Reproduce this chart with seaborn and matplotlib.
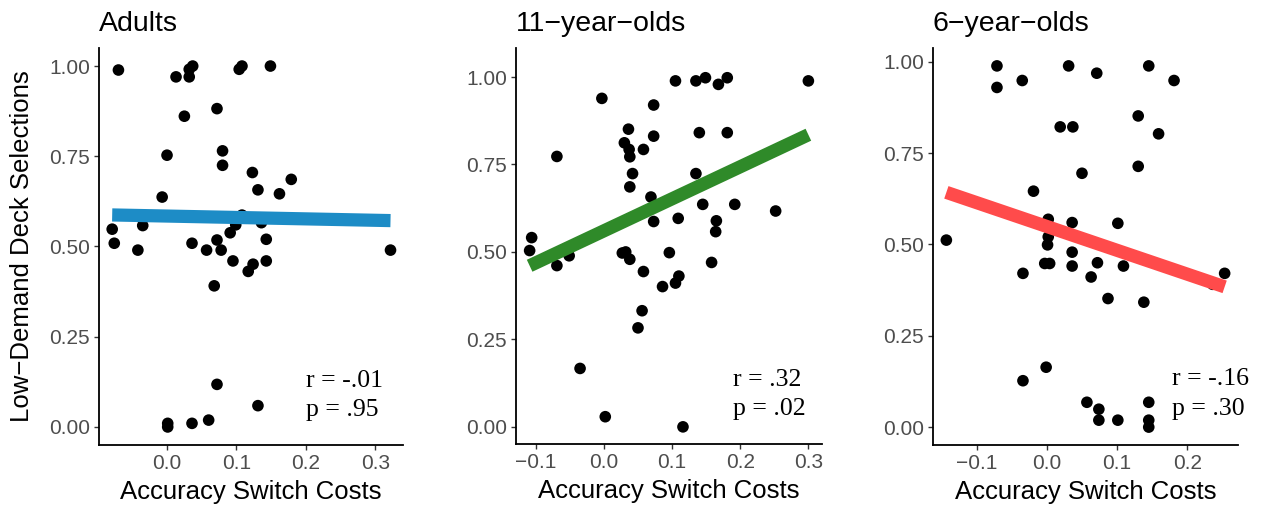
import numpy as np
import pandas as pd
import matplotlib
matplotlib.use("Agg")
import matplotlib.pyplot as plt
import seaborn as sns

# Accuracy switch costs (x) and proportion of low-demand deck selections (y)
adults_x = [-0.070, 0.013, 0.032, 0.037, 0.032, 0.104, 0.108, 0.149, 0.025, 0.072,
            0.000, 0.080, 0.080, 0.123, 0.179, 0.131, 0.162, -0.007, 0.108, -0.079,
            -0.035, 0.099, 0.091, 0.136, -0.076, -0.042, 0.036, 0.057, 0.072, 0.078,
            0.143, 0.095, 0.124, 0.117, 0.143, 0.068, 0.322, 0.072, 0.131, 0.001,
            0.001, 0.036, 0.060]
adults_y = [0.989, 0.970, 0.991, 1.000, 0.970, 0.991, 1.000, 1.000, 0.861, 0.882,
            0.753, 0.765, 0.725, 0.705, 0.686, 0.657, 0.646, 0.637, 0.587, 0.548,
            0.558, 0.560, 0.538, 0.566, 0.509, 0.490, 0.509, 0.490, 0.518, 0.490,
            0.520, 0.460, 0.451, 0.431, 0.460, 0.391, 0.490, 0.118, 0.059, 0.010,
            0.000, 0.010, 0.019]

age11_x = [-0.106, -0.109, -0.069, -0.069, -0.051, -0.035, -0.003, 0.002, 0.027, 0.032,
           0.038, 0.030, 0.037, 0.038, 0.036, 0.042, 0.038, 0.058, 0.073, 0.073,
           0.069, 0.073, 0.058, 0.056, 0.050, 0.096, 0.086, 0.105, 0.110, 0.109,
           0.105, 0.135, 0.149, 0.168, 0.181, 0.300, 0.140, 0.181, 0.135, 0.145,
           0.192, 0.252, 0.165, 0.164, 0.158, 0.116]
age11_y = [0.541, 0.504, 0.773, 0.461, 0.489, 0.167, 0.939, 0.029, 0.497, 0.500,
           0.479, 0.812, 0.793, 0.772, 0.851, 0.724, 0.686, 0.793, 0.920, 0.831,
           0.657, 0.587, 0.444, 0.332, 0.283, 0.498, 0.401, 0.411, 0.431, 0.596,
           0.989, 0.989, 0.998, 0.979, 0.998, 0.989, 0.841, 0.841, 0.724, 0.636,
           0.636, 0.617, 0.589, 0.558, 0.470, 0.000]

age6_x = [-0.143, -0.071, -0.071, -0.035, 0.031, 0.071, 0.145, 0.181, 0.019, 0.037,
          0.130, 0.159, 0.130, 0.050, -0.019, 0.002, 0.036, 0.101, 0.002, 0.001,
          -0.003, 0.004, 0.036, 0.036, 0.072, 0.063, 0.109, 0.087, 0.138, -0.034,
          0.253, 0.236, -0.034, -0.001, 0.057, 0.074, 0.074, 0.101, 0.145, 0.145,
          0.145]
age6_y = [0.512, 0.989, 0.930, 0.949, 0.989, 0.969, 0.989, 0.949, 0.822, 0.822,
          0.852, 0.803, 0.714, 0.695, 0.646, 0.569, 0.560, 0.558, 0.521, 0.499,
          0.448, 0.448, 0.479, 0.441, 0.450, 0.411, 0.441, 0.352, 0.342, 0.421,
          0.421, 0.391, 0.127, 0.164, 0.068, 0.049, 0.019, 0.019, 0.068, 0.019,
          0.000]

groups = ["Adults", "11\u2212year\u2212olds", "6\u2212year\u2212olds"]
line_colors = ["#1d8cc6", "#2f8a29", "#ff4b4b"]
r_labels = ["r = -.01", "r = .32", "r = -.16"]
p_labels = ["p = .95", "p = .02", "p = .30"]

x_ticks = [[0.0, 0.1, 0.2, 0.3], [-0.1, 0.0, 0.1, 0.2, 0.3], [-0.1, 0.0, 0.1, 0.2]]
y_ticks = [0.00, 0.25, 0.50, 0.75, 1.00]

df = pd.DataFrame({
    "cost": adults_x + age11_x + age6_x,
    "selections": adults_y + age11_y + age6_y,
    "group": ([groups[0]] * len(adults_x) + [groups[1]] * len(age11_x)
              + [groups[2]] * len(age6_x)),
})

sns.set_theme(style="ticks")
plt.rcParams["font.family"] = ["Liberation Sans", "DejaVu Sans"]

W, H = 1263, 511
fig = plt.figure(figsize=(W / 100, H / 100), dpi=100)

# panel boxes in pixels: left, right, top, bottom
boxes = [(99, 403, 48, 445), (516, 822, 48, 444), (933, 1238, 48, 445)]
xlims = [(-0.098, 0.340), (-0.129, 0.320), (-0.162, 0.272)]
ylims = [(-0.05, 1.05), (-0.049, 1.083), (-0.049, 1.038)]
text_x = [0.200, 0.190, 0.178]
r_y = [0.112, 0.117, 0.115]
p_y = [0.031, 0.034, 0.033]

def fmt(v, nd):
    s = f"{v:.{nd}f}"
    return s.replace("-", "\u2212")

for i, g in enumerate(groups):
    l, r, t, b = boxes[i]
    ax = fig.add_axes([l / W, 1 - b / H, (r - l) / W, (b - t) / H])
    sub = df[df["group"] == g]
    sns.scatterplot(data=sub, x="cost", y="selections", ax=ax, color="black",
                    s=70, edgecolor="none", linewidth=0, zorder=2)
    sns.regplot(data=sub, x="cost", y="selections", ax=ax, scatter=False, ci=None,
                line_kws=dict(color=line_colors[i], lw=9.5, solid_capstyle="butt",
                              zorder=3))
    ax.set_xlim(*xlims[i])
    ax.set_ylim(*ylims[i])
    ax.set_xticks(x_ticks[i])
    ax.set_xticklabels([fmt(v, 1) for v in x_ticks[i]])
    ax.set_yticks(y_ticks)
    ax.set_yticklabels([fmt(v, 2) for v in y_ticks])
    ax.tick_params(axis="both", length=3.6, width=1.0, color="#333333",
                   labelcolor="#4d4d4d", labelsize=15, pad=3)
    for side in ["top", "right"]:
        ax.spines[side].set_visible(False)
    for side in ["left", "bottom"]:
        ax.spines[side].set_color("black")
        ax.spines[side].set_linewidth(1.3)
    ax.set_xlabel("Accuracy Switch Costs", fontsize=18.5, color="black", labelpad=5)
    ax.set_ylabel("")
    ax.set_title(g, loc="left", fontsize=20.5, color="black", pad=12)
    ax.text(text_x[i], r_y[i], r_labels[i], family="Liberation Serif", fontsize=18.5,
            ha="left", va="baseline", color="black")
    ax.text(text_x[i], p_y[i], p_labels[i], family="Liberation Serif", fontsize=18.5,
            ha="left", va="baseline", color="black")
    ax.patch.set_alpha(0)

fig.text(22 / W, 1 - 246 / H, "Low\u2212Demand Deck Selections", rotation=90,
         ha="center", va="center", fontsize=18.5, color="black")

fig.savefig("out.png", dpi=100, facecolor="white")
